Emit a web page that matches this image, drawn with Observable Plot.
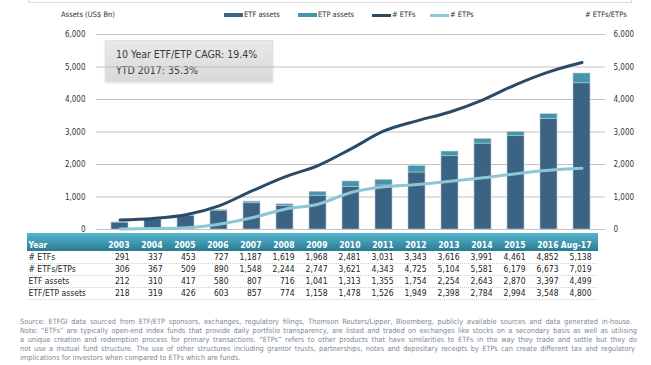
<!DOCTYPE html>
<html><head><meta charset="utf-8">
<script src="https://cdn.jsdelivr.net/npm/d3@7"></script>
<script src="https://cdn.jsdelivr.net/npm/@observablehq/plot@0.6"></script>
<style>
body{margin:0;background:#fff;}
#wrap{position:relative;width:651px;height:365px;overflow:hidden;font-family:"DejaVu Sans Condensed","DejaVu Sans",sans-serif;color:#333;background:#fff;}
.abs{position:absolute;white-space:nowrap;}
.just{position:absolute;white-space:nowrap;text-align:justify;text-align-last:justify;}
#wrap svg{position:absolute;left:0;background:transparent;}
</style></head><body><div id="wrap"></div>
<script>
const years = ["2003","2004","2005","2006","2007","2008","2009","2010","2011","2012","2013","2014","2015","2016","Aug-17"];
const numETFs = [291,337,453,727,1187,1619,1968,2481,3031,3343,3616,3991,4461,4852,5138];
const numETFsETPs = [306,367,509,890,1548,2244,2747,3621,4343,4725,5104,5581,6179,6673,7019];
const etfAssets = [212,310,417,580,807,716,1041,1313,1355,1754,2254,2643,2870,3397,4499];
const etfEtpAssets = [218,319,426,603,857,774,1158,1478,1526,1949,2398,2784,2994,3548,4800];
const yTicks = [0,1000,2000,3000,4000,5000,6000];
const rows = ["Year","# ETFs","# ETFs/ETPs","ETF assets","ETF/ETP assets"];
const footnote = [
 "Source: ETFGI data sourced from ETF/ETP sponsors, exchanges, regulatory filings, Thomson Reuters/Lipper, Bloomberg, publicly available sources and data generated in-house.",
 "Note: \u201CETFs\u201D are typically open-end index funds that provide daily portfolio transparency, are listed and traded on exchanges like stocks on a secondary basis as well as utilising",
 "a unique creation and redemption process for primary transactions. \u201CETPs\u201D refers to other products that have similarities to ETFs in the way they trade and settle but they do",
 "not use a mutual fund structure. The use of other structures including grantor trusts, partnerships, notes and depositary receipts by ETPs can create different tax and regulatory",
 "implications for investors when compared to ETFs which are funds."
];

const C = {etf:"#3b6384", etp:"#4396ab", lETF:"#2a4a66", lETP:"#8dc6d6"};
const FONT = '"DejaVu Sans Condensed","DejaVu Sans",sans-serif';
const fmt = d3.format(",");
const wrap = document.getElementById("wrap");
function add(html, css, cls){const d=document.createElement("div");d.className=cls||"abs";d.innerHTML=html;d.style.cssText+=css;wrap.appendChild(d);return d;}

// frame line at top
add("", "left:28px;top:-10px;width:602px;height:11px;border:1px solid #dcdcdc;");

// annotation box (behind gridlines)
add('<div style="position:absolute;left:10px;top:7px">10 Year ETF/ETP CAGR: 19.4%</div><div style="position:absolute;left:10px;top:23px">YTD 2017: 35.3%</div>',
 "left:105px;top:40px;width:166px;height:40px;background:linear-gradient(#e9e9e9,#d9d9d9);border:1px solid #e2e2e2;box-shadow:0 1px 2px rgba(0,0,0,0.15);font-size:10.5px;color:#3a3a3a;");

const data = years.map((y,i)=>({year:y, etfs:numETFs[i], etps:numETFsETPs[i]-numETFs[i]}));
const bars = years.flatMap((y,i)=>[
  {year:y, series:"ETF assets", value:etfAssets[i]},
  {year:y, series:"ETP assets", value:etfEtpAssets[i]-etfAssets[i]}
]);
const xOpt = {type:"band", domain:years, paddingInner:0.5, paddingOuter:0.25, axis:null};

const main = Plot.plot({
  width:651, height:240, marginLeft:96, marginRight:46, marginTop:34, marginBottom:11,
  style:{background:"transparent", fontFamily:FONT, fontSize:"8px", color:"#333"},
  x:xOpt,
  y:{domain:[0,6000], axis:null},
  color:{domain:["ETF assets","ETP assets"], range:[C.etf, C.etp]},
  marks:[
    Plot.gridY(yTicks, {stroke:"#c2c2c2", strokeOpacity:1, strokeWidth:1.2}),
    Plot.barY(bars, {x:"year", y:"value", fill:"series", stroke:"#b9c7d3", strokeWidth:0.6}),
    Plot.line(data, {x:"year", y:"etps", curve:"monotone-x", stroke:C.lETP, strokeWidth:3}),
    Plot.line(data, {x:"year", y:"etfs", curve:"monotone-x", stroke:C.lETF, strokeWidth:3}),
    Plot.axisY(yTicks, {anchor:"left", tickFormat:fmt, tickSize:0, tickPadding:11, fontSize:8, fill:"#333"}),
    Plot.axisY(yTicks, {anchor:"right", tickFormat:fmt, tickSize:0, tickPadding:8, fontSize:8, fill:"#333"})
  ]
});
main.style.top = "0px";
wrap.appendChild(main);

// legend & axis titles
add("Assets (US$ Bn)", "left:61px;top:10px;font-size:7.5px;color:#333;");
add("# ETFs/ETPs", "left:585px;top:10px;font-size:7.5px;color:#333;");
const leg = [
  {label:"ETF assets", color:C.etf, x:224, h:4},
  {label:"ETP assets", color:C.etp, x:298, h:4},
  {label:"# ETFs", color:C.lETF, x:372, h:3},
  {label:"# ETPs", color:C.lETP, x:430, h:3}
];
leg.forEach(l=>{
  add("", `left:${l.x}px;top:${15-l.h/2}px;width:19px;height:${l.h}px;background:${l.color};`);
  add(l.label, `left:${l.x+20}px;top:10px;font-size:7.5px;color:#333;`);
});

// table
const TOP = 233;
add("", `left:27px;top:${TOP}px;width:571px;height:18px;background:linear-gradient(#55b8d0,#2a7a90);`);
const bodyRows = rows.slice(1);
const series = [numETFs, numETFsETPs, etfAssets, etfEtpAssets];
const cells = bodyRows.flatMap((r,j)=>years.map((y,i)=>({row:r, year:y, text:fmt(series[j][i])})));
const bw = main.scale("x").bandwidth;
const table = Plot.plot({
  width:651, height:70, marginLeft:96, marginRight:46, marginTop:6, marginBottom:4,
  style:{background:"transparent", fontFamily:FONT, fontSize:"8.5px"},
  x:xOpt,
  y:{type:"band", domain:rows, padding:0, axis:null},
  marks:[
    Plot.text(["Year"], {y:d=>d, text:d=>d, frameAnchor:"left", dx:-68, textAnchor:"start", fill:"white", fontWeight:"bold", fontSize:8.5}),
    Plot.text(years, {x:d=>d, y:()=>"Year", text:d=>d, textAnchor:"end", dx:bw/2+1, fill:"white", fontWeight:"bold", fontSize:8.5}),
    Plot.text(bodyRows, {y:d=>d, text:d=>d, frameAnchor:"left", dx:-68, textAnchor:"start", fill:"#222"}),
    Plot.text(cells, {x:"year", y:"row", text:"text", textAnchor:"end", dx:bw/2+1, fill:"#222"})
  ]
});
table.style.top = TOP + "px";
wrap.appendChild(table);
const ty = table.scale("y");
bodyRows.forEach(r=>{
  const yb = TOP + ty.apply(r) + ty.bandwidth;
  add("", `left:28px;top:${yb}px;width:569px;height:0;border-top:1px dotted #cfcfcf;`);
});

// footnote
const fnWidths = [612, 617, 617, 615, null];
footnote.forEach((t,i)=>{
  const w = fnWidths[i];
  add(t, `left:20px;top:${317+i*9}px;font-size:7.3px;line-height:9px;color:#7a8794;` + (w?`width:${w}px;white-space:normal;`:""), w?"just":"abs");
});
</script></body></html>
